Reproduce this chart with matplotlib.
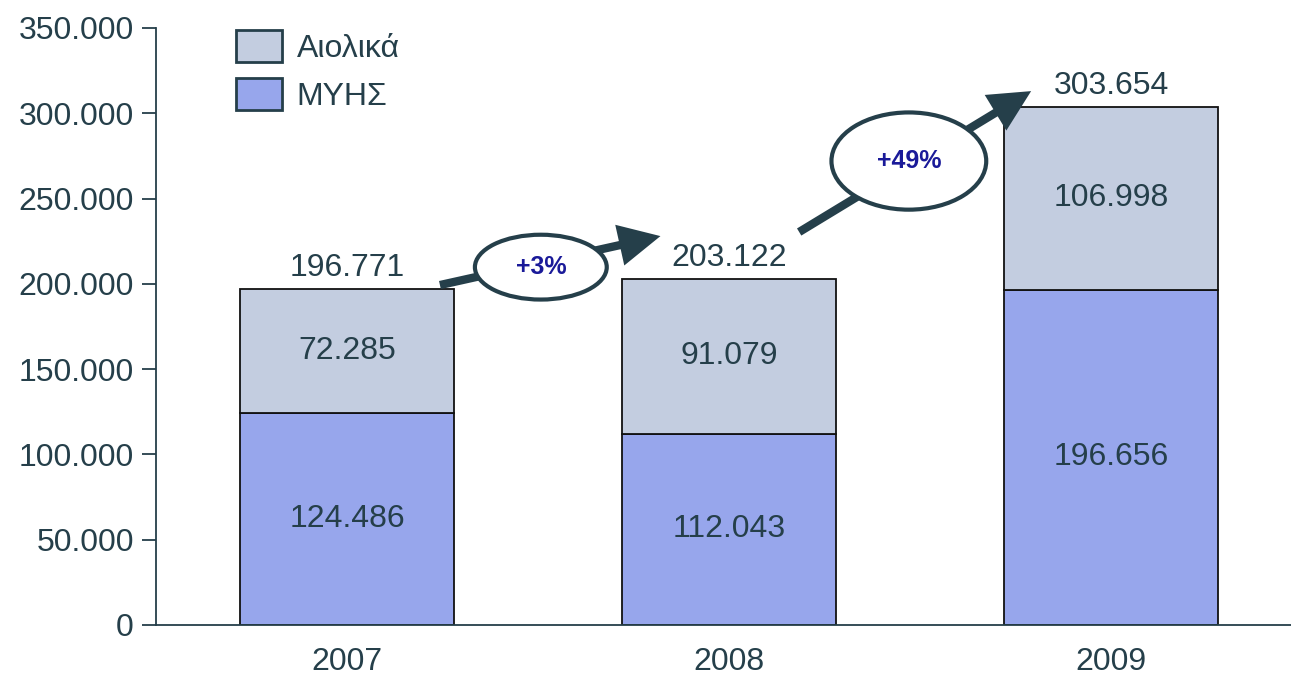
import matplotlib.pyplot as plt
from matplotlib.patches import Ellipse

plt.rcParams['font.family'] = ['Liberation Sans', 'DejaVu Sans']

# ============ DATA ============
years = ['2007', '2008', '2009']
myhs = [124486, 112043, 196656]
aiolika = [72285, 91079, 106998]
totals = [196771, 203122, 303654]
growth = ['+3%', '+49%']
yticks = [0, 50000, 100000, 150000, 200000, 250000, 300000, 350000]

TXT = '#253f4a'
C_MYHS = '#97a6ec'
C_AIOL = '#c3cde0'
FS = 23


def fmt(v):
    return f"{v:,}".replace(',', '.')


fig = plt.figure(figsize=(12.91, 6.78), dpi=100)
ax = fig.add_axes([156 / 1291, 53 / 678, 1 - 156 / 1291, 597 / 678])

x = range(len(years))
w = 0.56
b1 = ax.bar(x, myhs, w, color=C_MYHS, edgecolor='#111111', linewidth=1.3, label='ΜΥΗΣ')
b2 = ax.bar(x, aiolika, w, bottom=myhs, color=C_AIOL, edgecolor='#111111',
            linewidth=1.3, label='Αιολικά')

for i in x:
    ax.text(i, myhs[i] / 2, fmt(myhs[i]), ha='center', va='center', fontsize=FS, color=TXT)
    ax.text(i, myhs[i] + aiolika[i] / 2, fmt(aiolika[i]), ha='center', va='center',
            fontsize=FS, color=TXT)
    ax.text(i, totals[i] + 3500, fmt(totals[i]), ha='center', va='bottom', fontsize=FS, color=TXT)

# ============ GROWTH ARROWS ============
arrows = [((0.243, 199300), (0.82, 228000), (0.507, 209800), 0.345, 38000),
          ((1.183, 230400), (1.79, 313000), (1.47, 272000), 0.405, 57000)]
for (start, end, c, ew, eh), g in zip(arrows, growth):
    ax.annotate('', xy=end, xytext=start,
                arrowprops=dict(arrowstyle='simple,tail_width=0.2,head_width=1.0,head_length=1.0',
                                mutation_scale=30, facecolor=TXT, edgecolor=TXT, lw=0,
                                shrinkA=0, shrinkB=0), zorder=4)
    ax.add_patch(Ellipse(c, ew, eh, facecolor='white', edgecolor=TXT, lw=3, zorder=5))
    ax.text(c[0], c[1], g, ha='center', va='center', fontsize=18, fontweight='bold',
            color='#1a1a99', zorder=6)

ax.set_xlim(-0.5, 2.47)
ax.set_ylim(0, 350000)
ax.set_yticks(yticks)
ax.set_yticklabels([fmt(v) for v in yticks])
ax.set_xticks(list(x))
ax.set_xticklabels(years)
ax.tick_params(axis='y', colors=TXT, labelsize=FS, length=10, width=1.3, pad=6)
ax.tick_params(axis='x', colors=TXT, labelsize=FS, length=0, pad=16)
for s in ['top', 'right']:
    ax.spines[s].set_visible(False)
for s in ['left', 'bottom']:
    ax.spines[s].set_color(TXT)
    ax.spines[s].set_linewidth(1.3)

leg = ax.legend([b2, b1], ['Αιολικά', 'ΜΥΗΣ'], loc='upper left', bbox_to_anchor=(0.045, 1.045),
                frameon=False, fontsize=FS, handlelength=1.45, handleheight=1.15,
                labelspacing=0.45, handletextpad=0.45)
for t in leg.get_texts():
    t.set_color(TXT)
for h in leg.legend_handles:
    h.set_edgecolor(TXT)
    h.set_linewidth(2)

fig.savefig('out.png', dpi=100)
